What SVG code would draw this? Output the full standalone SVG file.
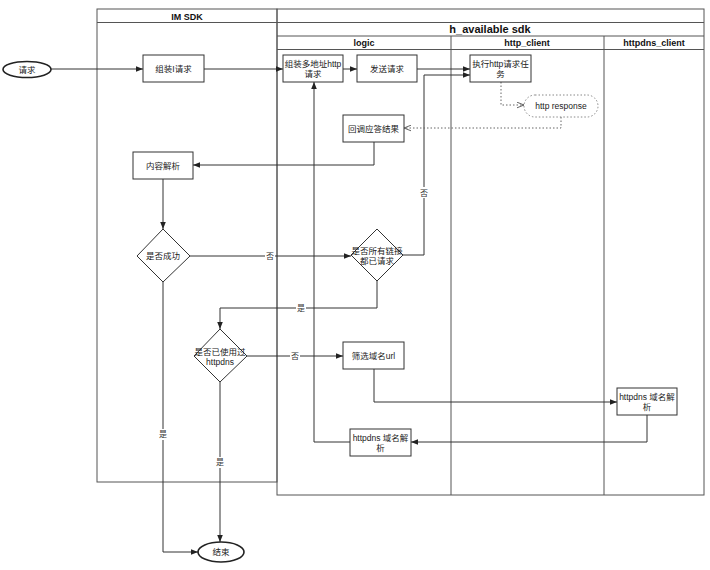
<svg xmlns="http://www.w3.org/2000/svg" width="710" height="570" viewBox="0 0 710 570">
<defs>
<marker id="arr" viewBox="0 0 10 10" refX="10" refY="5" markerWidth="7" markerHeight="7" markerUnits="userSpaceOnUse" orient="auto"><path d="M0,1 L10,5 L0,9 Z" fill="#222"/></marker>
<marker id="open" viewBox="0 0 10 10" refX="10" refY="5" markerWidth="7" markerHeight="7" markerUnits="userSpaceOnUse" orient="auto"><path d="M0,1 L10,5 L0,9" fill="none" stroke="#444" stroke-width="1.2"/></marker>
</defs>
<style>
.pool{fill:none;stroke:#555;stroke-width:1}
.hd{font-family:"Liberation Sans","Noto Sans CJK SC",sans-serif;font-weight:bold;fill:#111;text-anchor:middle}
.box{fill:#fff;stroke:#333;stroke-width:1}
.t{font-family:"Liberation Sans","Noto Sans CJK SC",sans-serif;font-size:8.5px;fill:#222;text-anchor:middle}
.lbl{font-family:"Liberation Sans","Noto Sans CJK SC",sans-serif;font-size:8px;fill:#333;text-anchor:middle}
.c{fill:none;stroke:#333;stroke-width:1;marker-end:url(#arr)}
.d{fill:none;stroke:#666;stroke-width:1;stroke-dasharray:1.5 2;marker-end:url(#open)}
.lb{fill:#fff}
</style>
<rect width="710" height="570" fill="#fff"/>
<g id="pools">
<rect class="pool" x="97" y="9" width="180" height="473"/>
<line class="pool" x1="97" y1="22.5" x2="277" y2="22.5"/>
<text class="hd" x="187" y="19.5" font-size="9">IM SDK</text>
<rect class="pool" x="277" y="9" width="427" height="486"/>
<line class="pool" x1="277" y1="22.5" x2="704" y2="22.5"/>
<line class="pool" x1="277" y1="36" x2="704" y2="36"/>
<line class="pool" x1="277" y1="49.5" x2="704" y2="49.5"/>
<line class="pool" x1="451" y1="36" x2="451" y2="495"/>
<line class="pool" x1="604" y1="36" x2="604" y2="495"/>
<text class="hd" x="490" y="33" font-size="11">h_available sdk</text>
<text class="hd" x="364" y="46" font-size="9">logic</text>
<text class="hd" x="527" y="46" font-size="9">http_client</text>
<text class="hd" x="654" y="46" font-size="9">httpdns_client</text>
</g>
<g id="connectors">
<path class="c" d="M51,69 L143,69"/>
<path class="c" d="M204,69 L283,69"/>
<path class="c" d="M343,69 L357,69"/>
<path class="c" d="M417,69 L470,69"/>
<path class="c" d="M403,255 L424,255 L424,75 L470,75"/>
<rect class="lb" x="419" y="187" width="10" height="11"/>
<text class="lbl" x="424" y="195.5">否</text>
<path class="d" d="M501,82 L501,105 L524,105"/>
<path class="d" d="M561,117 L561,128 L404,128"/>
<path class="c" d="M374,142 L374,165 L193,165"/>
<path class="c" d="M163,179 L163,229"/>
<path class="c" d="M190,256 L351,256"/>
<rect class="lb" x="265" y="251" width="10" height="11"/>
<text class="lbl" x="270" y="259">否</text>
<path class="c" d="M163,282 L163,552 L198,552"/>
<rect class="lb" x="158" y="429" width="10" height="11"/>
<text class="lbl" x="163" y="437">是</text>
<path class="c" d="M377,281 L377,308 L220,308 L220,329"/>
<rect class="lb" x="296" y="303" width="10" height="11"/>
<text class="lbl" x="301" y="311">是</text>
<path class="c" d="M247,356 L343,356"/>
<rect class="lb" x="290" y="351" width="10" height="11"/>
<text class="lbl" x="295" y="359">否</text>
<path class="c" d="M220,382 L220,542"/>
<rect class="lb" x="215" y="457" width="10" height="11"/>
<text class="lbl" x="220" y="465">是</text>
<path class="c" d="M374,369 L374,402 L617,402"/>
<path class="c" d="M647,415 L647,442 L411,442"/>
<path class="c" d="M350,442 L314,442 L314,82"/>
</g>
<g id="n-start"><ellipse cx="27" cy="69.5" rx="24" ry="8" fill="#fff" stroke="#222" stroke-width="1.6"/><text class="t" x="27" y="72.5">请求</text></g>
<g id="n-assemble"><rect class="box" x="143" y="55" width="61" height="27"/><text class="t" x="173.5" y="71.5">组装I请求</text></g>
<g id="n-multi"><rect class="box" x="283" y="55" width="60" height="27"/><text class="t" x="313" y="67">组装多地址http</text><text class="t" x="313" y="77">请求</text></g>
<g id="n-send"><rect class="box" x="357" y="55" width="60" height="27"/><text class="t" x="387" y="71.5">发送请求</text></g>
<g id="n-exec"><rect class="box" x="470" y="55" width="61" height="27"/><text class="t" x="500.5" y="67">执行http请求任</text><text class="t" x="500.5" y="77">务</text></g>
<g id="n-resp"><rect x="524" y="95" width="74" height="22" rx="11" fill="#fff" stroke="#888" stroke-width="1" stroke-dasharray="1.5 2"/><text class="t" x="561" y="109">http response</text></g>
<g id="n-callback"><rect class="box" x="343" y="115" width="61" height="27"/><text class="t" x="373.5" y="131.5">回调应答结果</text></g>
<g id="n-parse"><rect class="box" x="133" y="152" width="60" height="27"/><text class="t" x="163" y="168.5">内容解析</text></g>
<g id="n-success"><polygon class="box" points="163,229 190,256 163,282 137,256"/><text class="t" x="163" y="259">是否成功</text></g>
<g id="n-allreq"><polygon class="box" points="377,229 403,255 377,281 351,255"/><text class="t" x="377" y="254">是否所有链接</text><text class="t" x="377" y="264">都已请求</text></g>
<g id="n-usedns"><polygon class="box" points="220,329 247,356 220,382 194,356"/><text class="t" x="220" y="355">是否已使用过</text><text class="t" x="220" y="365">httpdns</text></g>
<g id="n-filter"><rect class="box" x="343" y="342" width="61" height="27"/><text class="t" x="373.5" y="358.5">筛选域名url</text></g>
<g id="n-dns-r"><rect class="box" x="617" y="388" width="60" height="27"/><text class="t" x="647" y="400">httpdns 域名解</text><text class="t" x="647" y="410">析</text></g>
<g id="n-dns-l"><rect class="box" x="350" y="429" width="61" height="27"/><text class="t" x="380.5" y="441">httpdns 域名解</text><text class="t" x="380.5" y="451">析</text></g>
<g id="n-end"><ellipse cx="221" cy="552" rx="23" ry="10" fill="#fff" stroke="#222" stroke-width="1.6"/><text class="t" x="221" y="555">结束</text></g>
</svg>
